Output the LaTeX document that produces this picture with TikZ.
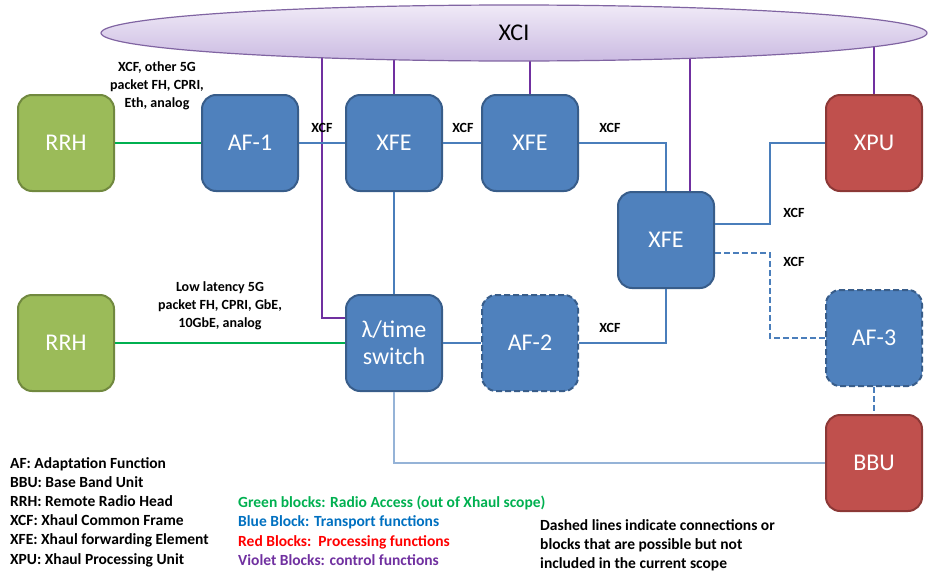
\documentclass[tikz,border=0pt]{standalone}
\usepackage{fontspec}
\setmainfont{Carlito}
\usetikzlibrary{shapes.geometric}
\definecolor{blockblue}{HTML}{4F81BD}
\definecolor{blueedge}{HTML}{385D8A}
\definecolor{blockgreen}{HTML}{9BBB59}
\definecolor{greenedge}{HTML}{71893F}
\definecolor{blockred}{HTML}{C0504D}
\definecolor{rededge}{HTML}{8C3836}
\definecolor{violet}{HTML}{7030A0}
\definecolor{xcitop}{HTML}{F0EAF7}
\definecolor{xcibot}{HTML}{CBBBE2}
\definecolor{xciedge}{HTML}{8064A2}
\definecolor{linkblue}{HTML}{4A7EBB}
\definecolor{lightblue}{HTML}{95B3D7}
\definecolor{radiogreen}{HTML}{00B050}
\definecolor{legendblue}{HTML}{0070C0}
\tikzset{
  block/.style={rectangle, rounded corners=14pt, minimum width=96pt, minimum height=96pt,
    line width=2pt, text=white, font=\fontsize{24}{27}\selectfont, align=center},
  bluebox/.style={block, fill=blockblue, draw=blueedge},
  greenbox/.style={block, fill=blockgreen, draw=greenedge},
  redbox/.style={block, fill=blockred, draw=rededge},
  optional/.style={dash pattern=on 6pt off 3pt},
  link/.style={draw=linkblue, line width=1.5pt},
  lightlink/.style={draw=lightblue, line width=2.5pt},
  radio/.style={draw=radiogreen, line width=2pt},
  ctrl/.style={draw=violet, line width=1.5pt},
  lbl/.style={font=\fontsize{14}{18}\selectfont\bfseries, align=center, inner sep=0pt},
  legend/.style={font=\fontsize{15.5}{19.2}\selectfont\bfseries, align=left, inner sep=0pt, anchor=north west}
}
\begin{document}
\begin{tikzpicture}[x=1pt, y=-1pt]
    \useasboundingbox (0,0) rectangle (928,573);
    \coordinate (xcic) at (514,33);
    \node[greenbox] (rrhA) at (66,143) {RRH};
    \node[bluebox] (afA) at (250,143) {AF-1};
    \node[bluebox] (xfeA) at (394,143) {XFE};
    \node[bluebox] (xfeB) at (530,143) {XFE};
    \node[bluebox] (xfeC) at (666,240) {XFE};
    \node[redbox] (xpu) at (874,143) {XPU};
    \node[greenbox] (rrhB) at (66,343) {RRH};
    \node[bluebox] (sw) at (394,343) {λ/time\\switch};
    \node[bluebox, optional] (afB) at (530,343) {AF-2};
    \node[bluebox, optional] (afC) at (874,338) {AF-3};
    \node[redbox] (bbu) at (874,463) {BBU};
    \draw[ctrl] ([yshift=25pt]sw.west) -| (xcic -| 322,0);
    \draw[ctrl] (xfeA.north) -- (xfeA.north |- xcic);
    \draw[ctrl] (xfeB.north) -- (xfeB.north |- xcic);
    \draw[ctrl] ([xshift=24pt]xfeC.north) -- ([xshift=24pt]xfeC.north |- xcic);
    \draw[ctrl] (xpu.north) -- (xpu.north |- xcic);
    \node[ellipse, minimum width=826pt, minimum height=56pt, inner sep=0pt, top color=xcitop,
      bottom color=xcibot, draw=xciedge, line width=1.2pt, font=\fontsize{24}{27}\selectfont] (xci) at (xcic) {XCI};
    \draw[radio] (rrhA) -- (afA);
    \draw[link] (afA) -- (xfeA);
    \draw[link] (xfeA) -- (xfeB);
    \draw[link] (xfeB.east) -| (xfeC.north);
    \draw[link] ([yshift=16pt]xfeC.east) -- ++(55,0) |- (xpu.west);
    \draw[link, optional] ([yshift=-13pt]xfeC.east) -- ++(55,0) |- (afC.west);
    \draw[link] (xfeA) -- (sw);
    \draw[radio] (rrhB) -- (sw);
    \draw[link, line width=2.5pt] (sw) -- (afB);
    \draw[link] (afB.east) -| (xfeC.south);
    \draw[lightlink] (sw.south) |- (bbu.west);
    \draw[link, optional] (afC) -- (bbu);
    \node[lbl] (fhA) at (157,86) {XCF, other 5G\\packet FH, CPRI,\\Eth, analog};
    \node[lbl] (fhB) at (220,306) {Low latency 5G\\packet FH, CPRI, GbE,\\10GbE, analog};
    \node[lbl] (xcfA) at (322,128) {XCF};
    \node[lbl] (xcfB) at (463,128) {XCF};
    \node[lbl] (xcfC) at (610,128) {XCF};
    \node[lbl] (xcfD) at (794,213) {XCF};
    \node[lbl] (xcfE) at (794,262) {XCF};
    \node[lbl] (xcfF) at (610,328) {XCF};
    \node[legend] (abbr) at (10,457) {AF: Adaptation Function\\BBU: Base Band Unit\\RRH: Remote Radio Head\\XCF: Xhaul Common Frame\\XFE: Xhaul forwarding Element\\XPU: Xhaul Processing Unit};
    \node[legend] (colors) at (238,496) {\textcolor{radiogreen}{Green blocks: Radio Access (out of Xhaul scope)}\\\textcolor{legendblue}{Blue Block: Transport functions}\\\textcolor{red}{Red Blocks:\ \ Processing functions}\\\textcolor{violet}{Violet Blocks: control functions}};
    \node[legend, font=\fontsize{15.5}{19}\selectfont\bfseries] (note) at (540,519) {Dashed lines indicate connections or\\blocks that are possible but not\\included in the current scope};
\end{tikzpicture}
\end{document}
